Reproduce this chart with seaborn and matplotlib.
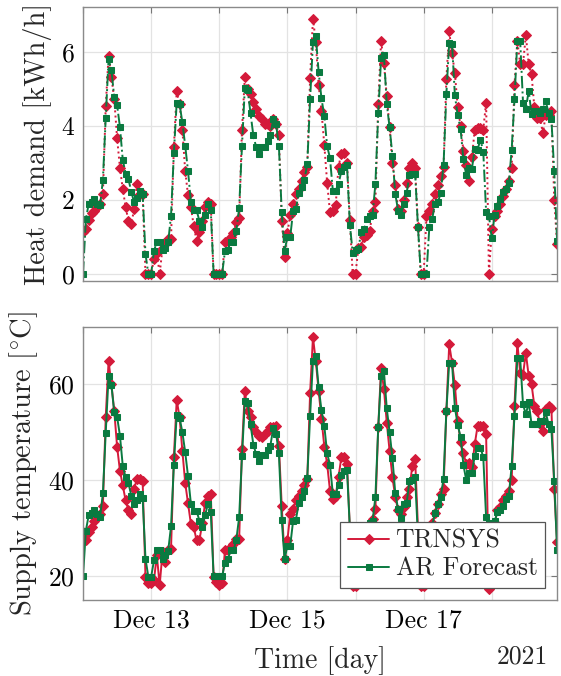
import numpy as np
import pandas as pd
import matplotlib
matplotlib.use("Agg")
import matplotlib.pyplot as plt
import seaborn as sns

# ---------------- data (hourly, starting 2021-12-12 00:00) ----------------
start_time = "2021-12-12 00:00"

heat_trnsys = [
    1.14, 1.20, 1.45, 1.65, 1.70, 1.80, 1.90, 2.15, 4.54, 5.89, 5.32, 4.72,
    3.67, 2.87, 2.29, 1.81, 1.43, 1.34, 1.75, 2.44, 2.17, 2.16, 0.00, 0.00,
    0.00, 0.40, 0.55, 0.00, 0.70, 0.80, 0.95, 0.94, 3.42, 4.93, 4.59, 3.90,
    2.77, 2.12, 1.80, 1.30, 0.89, 1.12, 1.43, 1.80, 1.95, 1.88, 0.00, 0.00,
    0.00, 0.00, 0.86, 0.90, 1.00, 1.10, 1.40, 1.50, 3.90, 5.32, 5.00, 4.86,
    4.64, 4.45, 4.27, 4.18, 4.05, 4.05, 4.00, 4.18, 4.05, 3.74, 1.43, 0.46,
    1.10, 1.60, 1.88, 2.16, 2.30, 2.50, 2.74, 2.90, 5.30, 6.90, 6.27, 5.10,
    4.40, 3.48, 2.46, 1.66, 1.70, 1.85, 2.90, 3.25, 3.27, 3.00, 1.45, 0.00,
    0.00, 0.70, 0.72, 1.00, 1.05, 1.15, 1.70, 1.95, 4.60, 6.30, 5.70, 4.80,
    3.96, 3.00, 2.40, 1.75, 1.70, 2.00, 2.45, 2.85, 3.00, 2.85, 1.26, 0.00,
    0.00, 1.55, 1.70, 1.88, 2.16, 2.40, 2.65, 2.90, 5.27, 6.55, 5.96, 5.42,
    4.50, 4.00, 3.33, 2.95, 2.50, 3.15, 3.90, 3.95, 3.95, 3.90, 4.63, 0.00,
    1.20, 1.55, 1.69, 1.88, 2.10, 2.30, 2.50, 2.85, 5.10, 6.30, 5.67, 5.67,
    6.45, 5.67, 5.40, 4.50, 4.20, 4.20, 3.80, 4.30, 4.30, 4.40, 2.00, 0.80,
]

heat_ar = [
    0.00, 1.48, 1.89, 1.95, 2.02, 1.89, 1.85, 2.54, 4.22, 5.80, 5.51, 4.77,
    4.56, 3.97, 3.08, 2.71, 2.56, 2.22, 1.93, 2.06, 2.24, 2.16, 0.54, 0.00,
    0.00, 0.62, 0.86, 0.86, 0.64, 0.70, 0.86, 1.57, 3.26, 4.63, 4.59, 4.09,
    3.46, 2.77, 1.95, 1.72, 1.72, 1.43, 1.27, 1.60, 1.88, 1.73, 0.00, 0.00,
    0.00, 0.00, 0.61, 0.65, 0.86, 0.86, 1.17, 1.78, 3.46, 5.03, 4.97, 4.34,
    3.74, 3.42, 3.24, 3.42, 3.42, 3.60, 3.74, 4.18, 4.05, 3.46, 1.66, 0.62,
    1.00, 1.00, 1.69, 1.76, 2.18, 2.35, 2.54, 2.97, 4.72, 6.27, 6.42, 5.46,
    4.74, 4.27, 3.45, 3.13, 2.25, 2.25, 2.43, 2.77, 2.90, 2.93, 1.33, 0.57,
    0.65, 0.67, 1.13, 1.20, 1.47, 1.56, 1.60, 2.43, 4.34, 5.82, 5.92, 4.60,
    3.96, 3.19, 2.16, 1.71, 1.58, 1.89, 2.18, 2.67, 2.71, 2.71, 1.26, 0.00,
    0.00, 0.00, 1.26, 1.48, 1.90, 1.93, 2.18, 2.93, 4.86, 6.25, 6.22, 4.82,
    4.28, 3.92, 3.09, 2.67, 2.87, 2.84, 3.38, 3.36, 3.63, 3.30, 1.68, 1.57,
    0.96, 1.60, 1.84, 2.02, 2.20, 2.30, 2.45, 3.35, 4.72, 6.30, 6.30, 4.63,
    4.45, 4.95, 4.32, 4.40, 4.40, 4.35, 4.45, 4.66, 4.36, 4.18, 2.77, 0.90,
]

temp_trnsys = [
    29.2, 27.5, 29.2, 30.2, 31.6, 32.3, 33.0, 34.7, 53.2, 64.8, 60.0, 54.4,
    47.0, 42.0, 38.9, 35.8, 33.8, 32.9, 38.2, 40.3, 40.3, 39.8, 19.9, 18.5,
    18.5, 19.2, 24.4, 18.1, 25.0, 23.0, 25.4, 25.7, 44.8, 56.7, 53.2, 46.1,
    39.4, 35.2, 30.9, 30.2, 27.5, 27.5, 31.0, 35.2, 36.8, 37.2, 19.9, 18.8,
    18.1, 18.5, 25.4, 25.4, 26.0, 26.8, 27.8, 27.8, 46.5, 58.6, 54.4, 53.2,
    51.0, 50.0, 49.3, 48.9, 49.6, 50.3, 51.0, 51.1, 51.3, 47.2, 34.7, 23.7,
    27.5, 33.0, 34.0, 35.8, 36.8, 37.8, 38.9, 40.3, 58.2, 69.8, 64.8, 58.6,
    52.7, 47.0, 43.4, 37.8, 36.1, 36.8, 40.6, 44.8, 44.8, 43.4, 30.0, 18.0,
    18.0, 23.0, 24.0, 26.0, 27.0, 28.5, 32.0, 34.0, 51.0, 63.4, 59.0, 52.0,
    46.1, 40.6, 36.5, 33.7, 33.0, 34.5, 36.5, 38.2, 43.0, 44.4, 30.0, 18.0,
    18.0, 27.0, 29.0, 31.0, 33.1, 35.0, 37.2, 38.2, 54.4, 68.3, 64.5, 59.8,
    52.4, 47.9, 45.6, 43.4, 43.5, 42.7, 47.5, 51.3, 51.3, 51.3, 49.6, 17.4,
    26.0, 31.0, 33.7, 34.4, 35.8, 36.8, 37.8, 40.0, 55.5, 68.6, 62.4, 62.0,
    66.5, 61.7, 60.0, 55.5, 54.4, 51.7, 50.3, 54.8, 55.5, 55.0, 38.2, 27.1,
]

temp_ar = [
    20.0, 29.5, 32.7, 33.2, 33.7, 33.0, 32.3, 37.3, 49.9, 61.7, 59.8, 54.1,
    53.2, 49.3, 43.0, 40.6, 39.4, 36.8, 35.1, 35.8, 37.2, 36.3, 23.7, 19.9,
    19.9, 23.3, 25.4, 25.4, 23.5, 24.5, 25.3, 30.4, 43.2, 53.6, 53.0, 50.0,
    45.8, 40.8, 35.1, 33.6, 33.6, 31.6, 30.2, 32.7, 35.1, 33.4, 20.0, 20.0,
    20.0, 20.0, 22.8, 23.5, 25.4, 25.4, 27.6, 32.3, 45.0, 56.4, 56.0, 51.7,
    47.4, 45.4, 44.1, 45.3, 45.3, 46.3, 47.2, 50.8, 49.7, 45.6, 31.8, 23.5,
    26.4, 26.4, 31.5, 31.8, 35.2, 36.6, 37.8, 40.5, 53.4, 64.8, 65.9, 59.4,
    54.6, 51.3, 45.6, 43.2, 37.2, 37.2, 38.9, 41.0, 41.9, 42.1, 30.0, 25.0,
    25.5, 25.5, 28.0, 28.5, 30.5, 31.0, 31.5, 36.5, 51.0, 61.7, 62.7, 55.0,
    50.0, 44.6, 37.3, 34.0, 32.2, 35.0, 35.2, 39.9, 40.0, 40.6, 28.0, 20.0,
    20.0, 20.0, 28.0, 30.5, 33.1, 35.0, 36.5, 40.3, 54.4, 64.5, 64.3, 55.1,
    51.5, 49.0, 43.2, 40.0, 41.4, 41.6, 45.1, 46.8, 46.8, 44.8, 32.3, 31.0,
    27.5, 31.5, 33.3, 33.8, 34.7, 36.1, 36.8, 43.0, 53.4, 65.4, 65.4, 55.8,
    53.7, 56.2, 51.7, 51.7, 51.7, 52.4, 52.4, 54.1, 51.7, 50.6, 39.9, 25.5,
]

day_labels = ["", "Dec 13", "", "Dec 15", "", "Dec 17", ""]
heat_ticks = [0, 2, 4, 6]
temp_ticks = [20, 40, 60]
series_names = ["TRNSYS", "AR Forecast"]

# ---------------- style ----------------
sns.set_theme(style="whitegrid")
plt.rcParams.update({
    "font.family": ["cmr10", "DejaVu Serif"],
    "mathtext.fontset": "cm",
    "axes.formatter.use_mathtext": True,
    "font.size": 18.5,
    "axes.unicode_minus": False,
})

RED = "#d41a3a"
GREEN = "#0a7a40"
TICK_FS = 18.5
LABEL_FS = 20.5

times = pd.date_range(start_time, periods=len(heat_trnsys), freq="h")
days = pd.date_range(times[0].normalize(), periods=len(day_labels), freq="D")

df = pd.DataFrame({
    "time": times,
    "heat_trnsys": heat_trnsys, "heat_ar": heat_ar,
    "temp_trnsys": temp_trnsys, "temp_ar": temp_ar,
})

fig = plt.figure(figsize=(5.61, 6.76), dpi=100)
ax1 = fig.add_axes([0.148, 0.584, 0.845, 0.405])
ax2 = fig.add_axes([0.148, 0.112, 0.845, 0.405])

common = dict(linewidth=1.4, sort=False, estimator=None, legend=False)
red_m = dict(color=RED, marker="D", markersize=5.6, markeredgecolor=RED)
green_m = dict(color=GREEN, marker="s", markersize=4.9, markeredgecolor=GREEN)

# top panel: dotted / dash-dot
sns.lineplot(data=df, x="time", y="heat_trnsys", ax=ax1, linestyle=":",
             label=series_names[0], **red_m, **common)
sns.lineplot(data=df, x="time", y="heat_ar", ax=ax1, linestyle="-.",
             label=series_names[1], **green_m, **common)

# bottom panel: solid
sns.lineplot(data=df, x="time", y="temp_trnsys", ax=ax2, linestyle="-",
             label=series_names[0], **red_m, **common)
sns.lineplot(data=df, x="time", y="temp_ar", ax=ax2, linestyle="-",
             label=series_names[1], **green_m, **common)

for ax in (ax1, ax2):
    ax.set_xlim(times[0], times[-1])
    ax.set_xticks(days)
    ax.grid(True, color="#e3e3e3", linewidth=0.9)
    ax.tick_params(direction="in", top=True, right=True, length=4, width=0.8,
                   color="#777777", labelsize=TICK_FS, labelcolor="black", pad=6)
    for s in ax.spines.values():
        s.set_color("#8a8a8a")
        s.set_linewidth(1.0)
    ax.set_facecolor("white")

ax1.set_xticklabels([])
ax1.set_xlabel("")
ax1.set_ylim(-0.2, 7.2)
ax1.set_yticks(heat_ticks)
ax1.set_ylabel("Heat demand [kWh/h]", fontsize=LABEL_FS, labelpad=6)

ax2.set_xticklabels(day_labels)
ax2.set_ylim(15, 72)
ax2.set_yticks(temp_ticks)
ax2.set_ylabel(r"Supply temperature [$^{\circ}\mathrm{C}$]", fontsize=LABEL_FS, labelpad=6)
ax2.set_xlabel("Time [day]", fontsize=20, labelpad=10)
ax2.text(0.981, -0.205, "2021", transform=ax2.transAxes, ha="right", va="center",
         fontsize=TICK_FS)

leg = ax2.legend(loc="lower right", bbox_to_anchor=(0.975, 0.044), frameon=True,
                 fancybox=False, edgecolor="#555555", framealpha=1, fontsize=TICK_FS,
                 handlelength=1.6, borderpad=0.3, labelspacing=0.15, handletextpad=0.25,
                 borderaxespad=0)
leg.get_frame().set_linewidth(0.9)

fig.savefig("out.png", dpi=100, facecolor="white")
